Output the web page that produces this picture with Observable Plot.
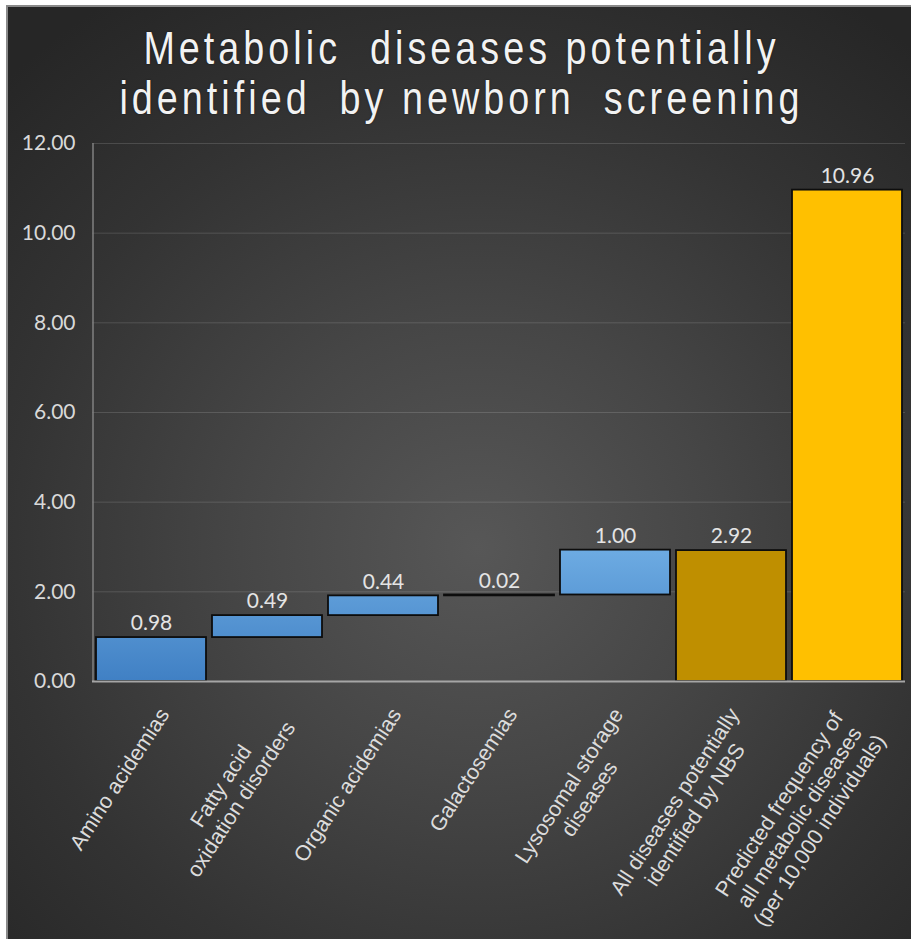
<!DOCTYPE html>
<html>
<head>
<meta charset="utf-8">
<script src="https://cdn.jsdelivr.net/npm/d3@7"></script>
<script src="https://cdn.jsdelivr.net/npm/@observablehq/plot@0.6"></script>
<style>
  html, body { margin: 0; padding: 0; background: #ffffff; width: 911px; height: 939px; overflow: hidden; }
  #panel {
    position: absolute; left: 6px; top: 5px; width: 905px; height: 934px; box-sizing: border-box;
    border-left: 2px solid #8a8a8a; border-top: 2px solid #8a8a8a;
    background: radial-gradient(ellipse 75% 70% at 52% 58%, #575757 0%, #464646 35%, #333333 70%, #262626 100%);
  }
  #title {
    position: absolute; left: 6px; top: 23px; width: 911px; text-align: center;
    font-family: "Liberation Sans", Arial, sans-serif; font-size: 46px; line-height: 50px;
    color: #f2f2f2; letter-spacing: 4.9px; white-space: pre;
    text-shadow: 0 0 2px rgba(0,0,0,0.6);
  }
  #title div { transform: scaleX(0.82); transform-origin: 50% 50%; }
  #chart { position: absolute; left: 0; top: 130px; }
</style>
</head>
<body>
<div id="panel"></div>
<div id="title"><div>Metabolic  diseases potentially</div><div>identified  by newborn  screening</div></div>
<div id="chart"></div>
<script>
// ---- data ----
const categories = [
  "Amino acidemias",
  "Fatty acid\noxidation disorders",
  "Organic acidemias",
  "Galactosemias",
  "Lysosomal storage\ndiseases",
  "All diseases potentially\nidentified by NBS",
  "Predicted frequency of\nall metabolic diseases\n(per 10,000 individuals)"
];
const values = [0.98, 0.49, 0.44, 0.02, 1.00, 2.92, 10.96];
const kinds = ["step", "step", "step", "step", "step", "subtotal", "total"];
const yTicks = [0, 2, 4, 6, 8, 10, 12];

// waterfall layout of the data
let running = 0;
const rows = categories.map((c, i) => {
  let y1, y2;
  if (kinds[i] === "step") { y1 = running; y2 = running + values[i]; running = y2; }
  else { y1 = 0; y2 = values[i]; }
  return {category: c, value: values[i], kind: kinds[i], y1, y2};
});

// ---- x label layout (rotated, centered multi-line blocks) ----
const LABEL_FONT = 21.5, LINE_H = 24, ANGLE = 57;
const rad = ANGLE * Math.PI / 180;
const ux = Math.cos(rad), uy = -Math.sin(rad);   // along text
const nx = Math.sin(rad), ny = Math.cos(rad);    // down across lines
const ctx = document.createElement("canvas").getContext("2d");
ctx.font = `${LABEL_FONT}px "Liberation Sans", Arial, sans-serif`;

const labelMarks = categories.flatMap((c) => {
  const lines = c.split("\n");
  const n = lines.length;
  const W = Math.max(...lines.map((l) => ctx.measureText(l).width));
  const px = 6.5 - 10 * (n - 1), py = 25;
  return lines.map((line, i) => {
    const off = 7.5 + i * LINE_H;
    return Plot.text([c], {
      x: (d) => d,
      frameAnchor: "bottom",
      lineAnchor: "middle",
      textAnchor: "middle",
      text: () => line,
      rotate: -ANGLE,
      dx: px - (W / 2) * ux + off * nx,
      dy: py - (W / 2) * uy + off * ny,
      fill: "#dcdcdc",
      fontFamily: "Liberation Sans, Arial, sans-serif",
      fontSize: LABEL_FONT
    });
  });
});

const defsMark = (index, scales, values, dimensions) => {
  const defs = d3.create("svg:defs");
  const lg = defs.append("linearGradient").attr("id", "blueGrad")
    .attr("gradientUnits", "userSpaceOnUse")
    .attr("x1", 0).attr("x2", 0)
    .attr("y1", scales.y(0)).attr("y2", scales.y(3));
  lg.append("stop").attr("offset", 0).attr("stop-color", "#4080c4");
  lg.append("stop").attr("offset", 1).attr("stop-color", "#6eace3");
  return defs.node();
};

const leftAxisMark = (index, scales, values, dimensions) => {
  return d3.create("svg:line")
    .attr("x1", dimensions.marginLeft + 1).attr("x2", dimensions.marginLeft + 1)
    .attr("y1", scales.y(0)).attr("y2", scales.y(12))
    .attr("stroke", "#808080").attr("stroke-width", 1.5).node();
};

const chart = Plot.plot({
  width: 911,
  height: 809,
  marginLeft: 92,
  marginRight: 6,
  marginTop: 13,
  marginBottom: 258,
  style: {background: "transparent", fontFamily: "Lato, sans-serif", fontSize: "21px", color: "#d9d9d9"},
  x: {domain: categories, paddingInner: 0.053, paddingOuter: 0.027, axis: null},
  y: {domain: [0, 12], ticks: yTicks, tickFormat: (d) => d.toFixed(2), tickSize: 0, tickPadding: 17, label: null},
  marks: [
    defsMark,
    Plot.ruleY(yTicks.filter((d) => d > 0), {stroke: "#ffffff", strokeOpacity: 0.14, strokeWidth: 1}),
    leftAxisMark,
    Plot.barY(rows.filter((d) => d.kind === "step"), {x: "category", y1: "y1", y2: "y2", fill: "url(#blueGrad)", stroke: "#0d0d0d", strokeWidth: 1.8}),
    Plot.barY(rows.filter((d) => d.kind === "subtotal"), {x: "category", y1: "y1", y2: "y2", fill: "#bf8f00", stroke: "#0d0d0d", strokeWidth: 1.8}),
    Plot.barY(rows.filter((d) => d.kind === "total"), {x: "category", y1: "y1", y2: "y2", fill: "#ffc000", stroke: "#0d0d0d", strokeWidth: 1.8}),
    Plot.ruleY([0], {stroke: "#a6a6a6", strokeWidth: 2}),
    Plot.text(rows, {x: "category", y: "y2", text: (d) => d.value.toFixed(2), dy: -14, lineAnchor: "middle", fill: "#e4e4e4", fontFamily: "Lato, sans-serif", fontSize: 21}),
    ...labelMarks
  ]
});
document.getElementById("chart").appendChild(chart);
</script>
</body>
</html>
